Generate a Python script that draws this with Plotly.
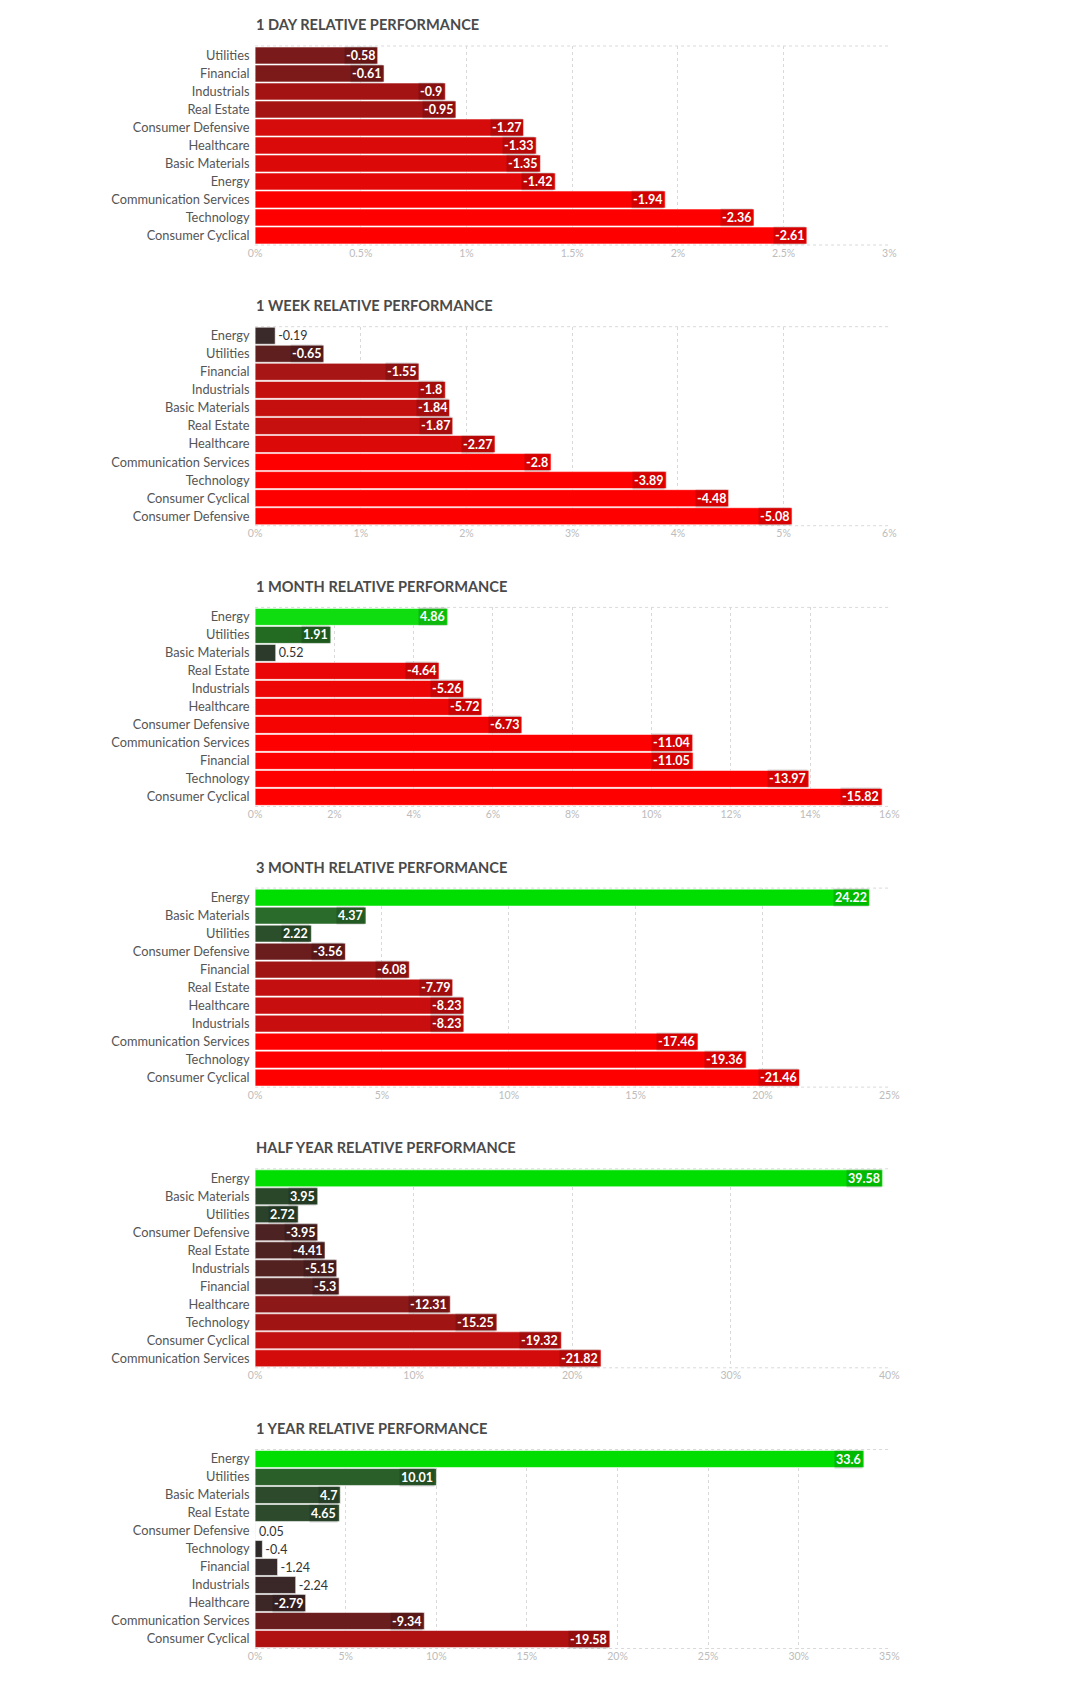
import plotly.graph_objects as go
import numpy as np

# ---------------- data ----------------
day1_cats = ["Utilities", "Financial", "Industrials", "Real Estate", "Consumer Defensive",
             "Healthcare", "Basic Materials", "Energy", "Communication Services",
             "Technology", "Consumer Cyclical"]
day1_vals = [-0.58, -0.61, -0.9, -0.95, -1.27, -1.33, -1.35, -1.42, -1.94, -2.36, -2.61]

week1_cats = ["Energy", "Utilities", "Financial", "Industrials", "Basic Materials",
              "Real Estate", "Healthcare", "Communication Services", "Technology",
              "Consumer Cyclical", "Consumer Defensive"]
week1_vals = [-0.19, -0.65, -1.55, -1.8, -1.84, -1.87, -2.27, -2.8, -3.89, -4.48, -5.08]

month1_cats = ["Energy", "Utilities", "Basic Materials", "Real Estate", "Industrials",
               "Healthcare", "Consumer Defensive", "Communication Services", "Financial",
               "Technology", "Consumer Cyclical"]
month1_vals = [4.86, 1.91, 0.52, -4.64, -5.26, -5.72, -6.73, -11.04, -11.05, -13.97, -15.82]

month3_cats = ["Energy", "Basic Materials", "Utilities", "Consumer Defensive", "Financial",
               "Real Estate", "Healthcare", "Industrials", "Communication Services",
               "Technology", "Consumer Cyclical"]
month3_vals = [24.22, 4.37, 2.22, -3.56, -6.08, -7.79, -8.23, -8.23, -17.46, -19.36, -21.46]

half_cats = ["Energy", "Basic Materials", "Utilities", "Consumer Defensive", "Real Estate",
             "Industrials", "Financial", "Healthcare", "Technology", "Consumer Cyclical",
             "Communication Services"]
half_vals = [39.58, 3.95, 2.72, -3.95, -4.41, -5.15, -5.3, -12.31, -15.25, -19.32, -21.82]

year1_cats = ["Energy", "Utilities", "Basic Materials", "Real Estate", "Consumer Defensive",
              "Technology", "Financial", "Industrials", "Healthcare",
              "Communication Services", "Consumer Cyclical"]
year1_vals = [33.6, 10.01, 4.7, 4.65, 0.05, -0.4, -1.24, -2.24, -2.79, -9.34, -19.58]

titles = ["1 DAY RELATIVE PERFORMANCE", "1 WEEK RELATIVE PERFORMANCE",
          "1 MONTH RELATIVE PERFORMANCE", "3 MONTH RELATIVE PERFORMANCE",
          "HALF YEAR RELATIVE PERFORMANCE", "1 YEAR RELATIVE PERFORMANCE"]
axis_max = [3, 6, 16, 25, 40, 35]
axis_step = [0.5, 1, 2, 5, 10, 5]

# ---------------- styles (bar colours) ----------------
day1_cols = ["#7a1a1a", "#7c1a1a", "#a31313", "#a61313", "#d60b0b", "#da0a0a", "#dc0909",
             "#e30707", "#fc0000", "#ff0000", "#ff0000"]
week1_cols = ["#3b2a2a", "#5f1f1f", "#a81515", "#c40f0f", "#c50f0f", "#c60f0f", "#dc0909",
              "#ff0000", "#ff0000", "#ff0000", "#ff0000"]
month1_cols = ["#10dd10", "#236b23", "#2b3a2b", "#ea0606", "#ee0505", "#f00404", "#f50303",
               "#ff0000", "#ff0000", "#ff0000", "#ff0000"]
month3_cols = ["#00dd00", "#2a6a2a", "#2b4f2b", "#6b1c1c", "#a01414", "#c30f0f", "#c80e0e",
               "#c80e0e", "#ff0000", "#ff0000", "#ff0000"]
half_cols = ["#00dd00", "#2a472a", "#2a422a", "#4d2222", "#4f2222", "#542121", "#552121",
             "#8c1818", "#a01414", "#c20f0f", "#d40b0b"]
year1_cols = ["#00dd00", "#2a5f2a", "#2d4a2d", "#2d4a2d", "#eeeeee", "#2f2a2a", "#362a2a",
              "#3a2828", "#3d2626", "#6a1d1d", "#b01111"]

panels = [
    (day1_cats, day1_vals, day1_cols),
    (week1_cats, week1_vals, week1_cols),
    (month1_cats, month1_vals, month1_cols),
    (month3_cats, month3_vals, month3_cols),
    (half_cats, half_vals, half_cols),
    (year1_cats, year1_vals, year1_cols),
]

# ---------------- layout geometry (page pixels) ----------------
OFF = 8                       # default body margin of the html page
W, H = 1080 - 2 * OFF, 1687 - 2 * OFF   # fit inside the window, no scrollbars
PL, PR = 252, 896.5
TOP0, BOT0, PITCH = 46, 245, 280.7
TITLE_X = 251
TITLE_Y0 = 25
FONT = "Lato"


def px_x(px):
    return (px - OFF) / W


def px_y(py):
    return 1 - (py - OFF) / H


fig = go.Figure()
layout = {}
shapes = []
annotations = []

for i, (cats, vals, cols) in enumerate(panels):
    n = i + 1
    xa = "x" if n == 1 else f"x{n}"
    ya = "y" if n == 1 else f"y{n}"
    xmax = axis_max[i]
    mags = np.abs(np.array(vals))
    plot_w = 634
    inside = [m / xmax * plot_w > 42 for m in mags]

    fig.add_trace(go.Bar(
        x=mags, y=cats, orientation="h",
        marker=dict(color=cols, line=dict(color="rgba(255,255,255,0.55)", width=1)),
        text=[str(v) for v in vals],
        textposition=["none" if ins else "outside" for ins in inside],
        textangle=0,
        constraintext="none",
        outsidetextfont=dict(color="#333333", size=12.5, family=FONT),
        cliponaxis=False,
        xaxis=xa, yaxis=ya,
        showlegend=False,
        hoverinfo="skip",
    ))

    # inside labels with darker background box
    for c, v, m, ins in zip(cats, vals, mags, inside):
        if ins:
            annotations.append(dict(
                text=str(v), xref=xa, yref=ya, x=m, y=c,
                xanchor="right", yanchor="middle", xshift=-1,
                showarrow=False, bgcolor="rgba(0,0,0,0.16)", borderpad=1,
                font=dict(family=FONT, size=12.5, color="white", weight="bold"),
            ))

    top = TOP0 + i * PITCH
    bot = BOT0 + i * PITCH
    layout["xaxis" if n == 1 else f"xaxis{n}"] = dict(
        domain=[px_x(PL), px_x(PR)], range=[0, xmax], tick0=0, dtick=axis_step[i],
        ticksuffix="%", showgrid=True, gridcolor="#d9d9d9", griddash="dot", gridwidth=1,
        zeroline=False, showline=False,
        tickfont=dict(color="#bcbcbc", size=10.5, family=FONT),
        ticks="", ticklen=0,
        anchor=ya, fixedrange=True,
    )
    layout["yaxis" if n == 1 else f"yaxis{n}"] = dict(
        domain=[px_y(bot), px_y(top)], type="category", autorange="reversed",
        tickfont=dict(color="#555555", size=12.8, family=FONT),
        ticks="outside", ticklen=2, tickcolor="rgba(0,0,0,0)",
        showgrid=False, zeroline=False, showline=False,
        anchor=xa, fixedrange=True,
    )
    for yy in (0, 1):
        shapes.append(dict(type="line", xref=f"{xa} domain", yref=f"{ya} domain",
                           x0=0, x1=1, y0=yy, y1=yy,
                           line=dict(color="#d9d9d9", width=1, dash="dot"), layer="below"))
    annotations.append(dict(
        text=titles[i], xref="paper", yref="paper",
        x=px_x(TITLE_X), y=px_y(TITLE_Y0 + i * PITCH), xanchor="left", yanchor="middle",
        showarrow=False, font=dict(family=FONT, size=14.6, color="#4a4a4a", weight="bold"),
    ))

fig.update_layout(
    width=W, height=H,
    margin=dict(l=0, r=0, t=0, b=0),
    paper_bgcolor="white", plot_bgcolor="white",
    bargap=0.06,
    shapes=shapes, annotations=annotations,
    font=dict(family=FONT),
    **layout,
)

fig.write_html("out.html")
